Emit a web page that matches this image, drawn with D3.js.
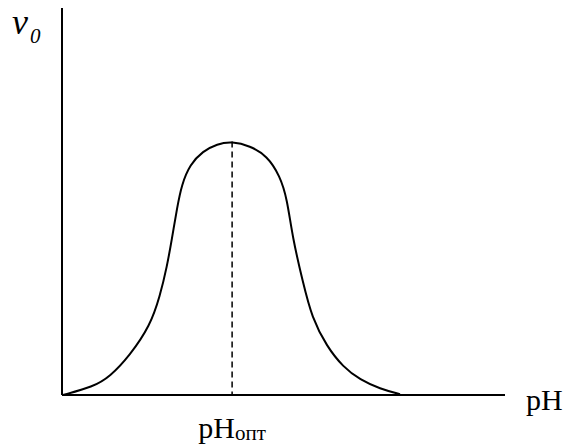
<!DOCTYPE html>
<html>
<head>
<meta charset="utf-8">
<script src="https://cdn.jsdelivr.net/npm/d3@7"></script>
<style>
  body { margin: 0; background: #fff; }
  text { font-family: "Liberation Serif", "DejaVu Serif", serif; fill: #000; }
</style>
</head>
<body>
<div id="chart"></div>
<script>
// curve (arbitrary pH units, rate in %)
var phValues = [0.02, 0.70, 1.08, 1.53, 1.99, 2.21, 2.37, 2.48, 2.60, 2.70, 2.89, 3.18, 3.50, 3.84,
	4.24, 4.63, 4.92, 5.08, 5.21, 5.44, 5.64, 5.98, 6.34, 6.73, 7.18, 7.63];
var rateValues = [0, 2.1, 4.7, 10.2, 17.9, 25.5, 33.2, 40.3, 48.5, 54.3, 59.6, 63.0, 64.9, 65.5,
	64.4, 61.8, 56.6, 50.8, 40.3, 29.1, 20.0, 12.5, 7.3, 3.9, 1.6, 0.2];
var phOptimum = 3.84;

var width = 569, height = 447;
var margin = { top: 8, right: 64, bottom: 52, left: 62 };

var svg = d3
	.select('#chart')
	.append('svg')
	.attr('width', width)
	.attr('height', height);

var x = d3.scaleLinear().domain([0, 10]).range([margin.left, width - margin.right]);
var y = d3.scaleLinear().domain([0, 100]).range([height - margin.bottom, margin.top]);

var data = phValues.map(function(d, i) { return [d, rateValues[i]]; });

// axes (plain lines, no ticks)
svg.append('line')
	.attr('x1', x(0)).attr('x2', x(0))
	.attr('y1', y(0)).attr('y2', y(100))
	.attr('stroke', '#000').attr('stroke-width', 2);
svg.append('line')
	.attr('x1', x(0)).attr('x2', x(10))
	.attr('y1', y(0)).attr('y2', y(0))
	.attr('stroke', '#000').attr('stroke-width', 2);

// dashed line at the optimum
var peak = d3.max(rateValues);
svg.append('line')
	.attr('x1', x(phOptimum)).attr('x2', x(phOptimum))
	.attr('y1', y(peak)).attr('y2', y(0))
	.attr('stroke', '#000').attr('stroke-width', 1.5)
	.attr('stroke-dasharray', '6,4');

// the bell curve
svg.append('path')
	.datum(data)
	.attr('fill', 'none')
	.attr('stroke', '#000')
	.attr('stroke-width', 2)
	.attr('d', d3.line()
		.x(function(d) { return x(d[0]); })
		.y(function(d) { return y(d[1]); })
		.curve(d3.curveBasis));

// labels
var yLabel = svg.append('text').attr('x', 12).attr('y', 34).style('font-style', 'italic');
yLabel.append('tspan').style('font-size', '36px').text('v');
yLabel.append('tspan').style('font-size', '21px').attr('dx', 2).attr('dy', 9).text('0');

svg.append('text')
	.attr('x', 526).attr('y', 410)
	.style('font-size', '30px')
	.text('pH');

var optLabel = svg.append('text')
	.attr('x', x(phOptimum)).attr('y', 438)
	.attr('text-anchor', 'middle');
optLabel.append('tspan').style('font-size', '30px').text('pH');
optLabel.append('tspan').style('font-size', '21px').attr('dy', 2).text('опт');
</script>
</body>
</html>
